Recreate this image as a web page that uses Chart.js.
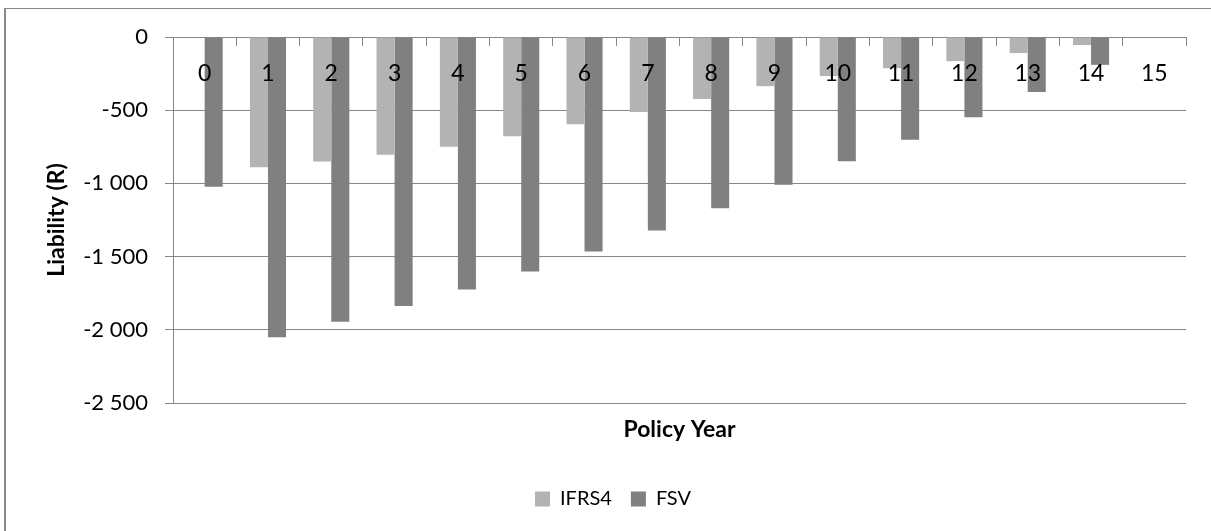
<!DOCTYPE HTML>
<html>
<head>
	<title>Liability by policy year</title>
	<script src="https://cdn.jsdelivr.net/npm/chart.js@4/dist/chart.umd.min.js"></script>
	<style>
		body { margin: 0; background: #fff; }
		#wrap { position: relative; width: 1211px; height: 531px; }
		#frame {
			position: absolute; left: 4px; top: 8px; right: 0; bottom: 0;
			border-left: 2px solid #898989; border-top: 1px solid #898989;
			pointer-events: none;
		}
		canvas { position: absolute; left: 0; top: 0; }
	</style>
</head>
<body>
	<div id="wrap">
		<canvas id="myChart" width="1211" height="531"></canvas>
		<div id="frame"></div>
	</div>
	<script>
		const years = ['0', '1', '2', '3', '4', '5', '6', '7', '8', '9', '10', '11', '12', '13', '14', '15'];
		const ifrs4 = [0, -890, -850, -805, -750, -678, -596, -512, -423, -336, -267, -213, -165, -110, -55, 0];
		const fsv = [-1023, -2051, -1945, -1838, -1724, -1601, -1466, -1322, -1169, -1009, -849, -701, -548, -375, -190, 0];

		const gridGrey = '#868686';
		const fontName = 'Lato';

		function spaced(v) {
			const s = Math.abs(v).toString().replace(/\B(?=(\d{3})+(?!\d))/g, ' ');
			return (v < 0 ? '-' : '') + s;
		}

		const data = {
			labels: years,
			datasets: [{
				label: 'IFRS4',
				backgroundColor: '#b3b3b3',
				data: ifrs4,
				xAxisID: 'x',
			},
			{
				label: 'FSV',
				backgroundColor: '#808080',
				data: fsv,
				xAxisID: 'x',
			}]
		};

		const config = {
			type: 'bar',
			data: data,
			options: {
				responsive: false,
				animation: false,
				categoryPercentage: 0.57,
				barPercentage: 1.0,
				layout: {
					padding: { left: 40, top: 37, right: 25, bottom: 12 }
				},
				plugins: {
					tooltip: { enabled: false },
					legend: {
						position: 'bottom',
						labels: {
							boxWidth: 15,
							boxHeight: 15,
							padding: 19,
							color: '#000',
							font: { family: fontName, size: 20 }
						}
					}
				},
				scales: {
					x: {
						type: 'category',
						position: { y: 0 },
						grid: {
							offset: true,
							drawOnChartArea: false,
							drawTicks: true,
							tickLength: 8,
							color: gridGrey
						},
						border: { display: true, color: gridGrey },
						ticks: {
							z: 1,
							color: '#000',
							padding: 15,
							font: { family: fontName, size: 23 }
						}
					},
					x2: {
						type: 'category',
						position: 'bottom',
						grid: { display: false },
						border: { display: false },
						ticks: { display: false },
						title: {
							display: true,
							text: 'Policy Year',
							color: '#000',
							padding: { top: 0, bottom: 27 },
							font: { family: fontName, size: 23, weight: 'bold' }
						},
						afterFit: function (scale) { scale.height = 67; }
					},
					y: {
						min: -2500,
						max: 0,
						ticks: {
							stepSize: 500,
							color: '#000',
							padding: 17,
							font: { family: fontName, size: 22 },
							callback: function (v) { return spaced(v); }
						},
						grid: {
							color: gridGrey,
							tickLength: 8
						},
						border: { display: true, color: gridGrey },
						title: {
							display: true,
							text: 'Liability (R)',
							color: '#000',
							padding: { top: 3, bottom: 0 },
							font: { family: fontName, size: 23, weight: 'bold' }
						},
						afterFit: function (scale) { scale.width = 133; }
					}
				}
			}
		};

		const myChart = new Chart(
			document.getElementById('myChart'),
			config
		);
	</script>
</body>
</html>
